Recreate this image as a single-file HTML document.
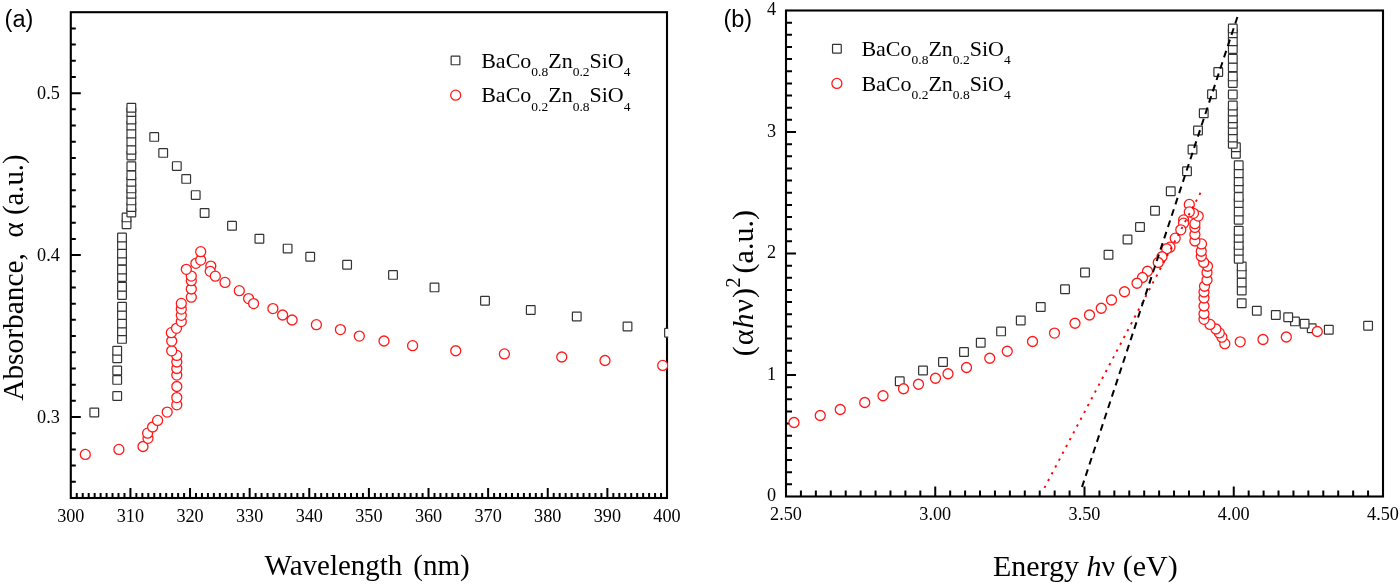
<!DOCTYPE html>
<html><head><meta charset="utf-8"><title>Absorbance chart</title>
<style>html,body{margin:0;padding:0;background:#fff;}body{width:1400px;height:585px;overflow:hidden;}svg{display:block;will-change:transform;}</style>
</head><body>
<svg width="1400" height="585" viewBox="0 0 1400 585"><rect width="1400" height="585" fill="#fff"/><g stroke="#000" stroke-width="2.1" fill="none" stroke-linecap="square"><rect x="70.80" y="12.20" width="596.20" height="485.80"/></g><path d="M76.76 498.00V493.00M82.72 498.00V493.00M88.69 498.00V493.00M94.65 498.00V493.00M100.61 498.00V493.00M106.57 498.00V493.00M112.53 498.00V493.00M118.50 498.00V493.00M124.46 498.00V493.00M130.42 498.00V488.00M136.38 498.00V493.00M142.34 498.00V493.00M148.31 498.00V493.00M154.27 498.00V493.00M160.23 498.00V493.00M166.19 498.00V493.00M172.15 498.00V493.00M178.12 498.00V493.00M184.08 498.00V493.00M190.04 498.00V488.00M196.00 498.00V493.00M201.96 498.00V493.00M207.93 498.00V493.00M213.89 498.00V493.00M219.85 498.00V493.00M225.81 498.00V493.00M231.77 498.00V493.00M237.74 498.00V493.00M243.70 498.00V493.00M249.66 498.00V488.00M255.62 498.00V493.00M261.58 498.00V493.00M267.55 498.00V493.00M273.51 498.00V493.00M279.47 498.00V493.00M285.43 498.00V493.00M291.39 498.00V493.00M297.36 498.00V493.00M303.32 498.00V493.00M309.28 498.00V488.00M315.24 498.00V493.00M321.20 498.00V493.00M327.17 498.00V493.00M333.13 498.00V493.00M339.09 498.00V493.00M345.05 498.00V493.00M351.01 498.00V493.00M356.98 498.00V493.00M362.94 498.00V493.00M368.90 498.00V488.00M374.86 498.00V493.00M380.82 498.00V493.00M386.79 498.00V493.00M392.75 498.00V493.00M398.71 498.00V493.00M404.67 498.00V493.00M410.63 498.00V493.00M416.60 498.00V493.00M422.56 498.00V493.00M428.52 498.00V488.00M434.48 498.00V493.00M440.44 498.00V493.00M446.41 498.00V493.00M452.37 498.00V493.00M458.33 498.00V493.00M464.29 498.00V493.00M470.25 498.00V493.00M476.22 498.00V493.00M482.18 498.00V493.00M488.14 498.00V488.00M494.10 498.00V493.00M500.06 498.00V493.00M506.03 498.00V493.00M511.99 498.00V493.00M517.95 498.00V493.00M523.91 498.00V493.00M529.87 498.00V493.00M535.84 498.00V493.00M541.80 498.00V493.00M547.76 498.00V488.00M553.72 498.00V493.00M559.68 498.00V493.00M565.65 498.00V493.00M571.61 498.00V493.00M577.57 498.00V493.00M583.53 498.00V493.00M589.49 498.00V493.00M595.46 498.00V493.00M601.42 498.00V493.00M607.38 498.00V488.00M613.34 498.00V493.00M619.30 498.00V493.00M625.27 498.00V493.00M631.23 498.00V493.00M637.19 498.00V493.00M643.15 498.00V493.00M649.11 498.00V493.00M655.08 498.00V493.00M661.04 498.00V493.00M70.80 481.81H75.80M70.80 465.61H75.80M70.80 449.42H75.80M70.80 433.23H75.80M70.80 417.03H80.80M70.80 400.84H75.80M70.80 384.65H75.80M70.80 368.45H75.80M70.80 352.26H75.80M70.80 336.07H75.80M70.80 319.87H75.80M70.80 303.68H75.80M70.80 287.49H75.80M70.80 271.29H75.80M70.80 255.10H80.80M70.80 238.91H75.80M70.80 222.71H75.80M70.80 206.52H75.80M70.80 190.33H75.80M70.80 174.13H75.80M70.80 157.94H75.80M70.80 141.75H75.80M70.80 125.55H75.80M70.80 109.36H75.80M70.80 93.17H80.80M70.80 76.97H75.80M70.80 60.78H75.80M70.80 44.59H75.80M70.80 28.39H75.80" stroke="#000" stroke-width="2" fill="none"/><g stroke="#000" stroke-width="2.1" fill="none" stroke-linecap="square"><rect x="786.00" y="10.50" width="597.00" height="486.00"/></g><path d="M800.92 496.50V490.50M815.85 496.50V490.50M830.77 496.50V490.50M845.70 496.50V490.50M860.62 496.50V490.50M875.55 496.50V490.50M890.48 496.50V490.50M905.40 496.50V490.50M920.33 496.50V490.50M935.25 496.50V486.50M950.17 496.50V490.50M965.10 496.50V490.50M980.02 496.50V490.50M994.95 496.50V490.50M1009.88 496.50V490.50M1024.80 496.50V490.50M1039.72 496.50V490.50M1054.65 496.50V490.50M1069.58 496.50V490.50M1084.50 496.50V486.50M1099.42 496.50V490.50M1114.35 496.50V490.50M1129.28 496.50V490.50M1144.20 496.50V490.50M1159.12 496.50V490.50M1174.05 496.50V490.50M1188.97 496.50V490.50M1203.90 496.50V490.50M1218.83 496.50V490.50M1233.75 496.50V486.50M1248.67 496.50V490.50M1263.60 496.50V490.50M1278.53 496.50V490.50M1293.45 496.50V490.50M1308.38 496.50V490.50M1323.30 496.50V490.50M1338.22 496.50V490.50M1353.15 496.50V490.50M1368.08 496.50V490.50M786.00 484.35H792.00M786.00 472.20H792.00M786.00 460.05H792.00M786.00 447.90H792.00M786.00 435.75H792.00M786.00 423.60H792.00M786.00 411.45H792.00M786.00 399.30H792.00M786.00 387.15H792.00M786.00 375.00H796.00M786.00 362.85H792.00M786.00 350.70H792.00M786.00 338.55H792.00M786.00 326.40H792.00M786.00 314.25H792.00M786.00 302.10H792.00M786.00 289.95H792.00M786.00 277.80H792.00M786.00 265.65H792.00M786.00 253.50H796.00M786.00 241.35H792.00M786.00 229.20H792.00M786.00 217.05H792.00M786.00 204.90H792.00M786.00 192.75H792.00M786.00 180.60H792.00M786.00 168.45H792.00M786.00 156.30H792.00M786.00 144.15H792.00M786.00 132.00H796.00M786.00 119.85H792.00M786.00 107.70H792.00M786.00 95.55H792.00M786.00 83.40H792.00M786.00 71.25H792.00M786.00 59.10H792.00M786.00 46.95H792.00M786.00 34.80H792.00M786.00 22.65H792.00" stroke="#000" stroke-width="2" fill="none"/><defs><clipPath id="ca"><rect x="0" y="0" width="668.2" height="585"/></clipPath></defs><g clip-path="url(#ca)"><g fill="#fff" stroke="#333" stroke-width="1.2"><rect x="89.95" y="408.15" width="8.7" height="8.7" rx="0.6"/><rect x="112.85" y="391.65" width="8.7" height="8.7" rx="0.6"/><rect x="112.85" y="375.55" width="8.7" height="8.7" rx="0.6"/><rect x="112.85" y="366.15" width="8.7" height="8.7" rx="0.6"/><rect x="112.85" y="353.85" width="8.7" height="8.7" rx="0.6"/><rect x="112.85" y="346.45" width="8.7" height="8.7" rx="0.6"/><rect x="117.65" y="334.55" width="8.7" height="8.7" rx="0.6"/><rect x="117.65" y="326.85" width="8.7" height="8.7" rx="0.6"/><rect x="117.65" y="319.15" width="8.7" height="8.7" rx="0.6"/><rect x="117.65" y="310.75" width="8.7" height="8.7" rx="0.6"/><rect x="117.65" y="302.35" width="8.7" height="8.7" rx="0.6"/><rect x="117.65" y="290.75" width="8.7" height="8.7" rx="0.6"/><rect x="117.65" y="282.35" width="8.7" height="8.7" rx="0.6"/><rect x="117.65" y="272.75" width="8.7" height="8.7" rx="0.6"/><rect x="117.65" y="265.25" width="8.7" height="8.7" rx="0.6"/><rect x="117.65" y="256.25" width="8.7" height="8.7" rx="0.6"/><rect x="117.65" y="249.15" width="8.7" height="8.7" rx="0.6"/><rect x="117.65" y="240.65" width="8.7" height="8.7" rx="0.6"/><rect x="117.65" y="233.15" width="8.7" height="8.7" rx="0.6"/><rect x="122.20" y="219.85" width="8.7" height="8.7" rx="0.6"/><rect x="122.20" y="213.05" width="8.7" height="8.7" rx="0.6"/><rect x="127.00" y="208.25" width="8.7" height="8.7" rx="0.6"/><rect x="127.00" y="202.65" width="8.7" height="8.7" rx="0.6"/><rect x="127.00" y="196.05" width="8.7" height="8.7" rx="0.6"/><rect x="127.00" y="189.45" width="8.7" height="8.7" rx="0.6"/><rect x="127.00" y="184.05" width="8.7" height="8.7" rx="0.6"/><rect x="127.00" y="177.45" width="8.7" height="8.7" rx="0.6"/><rect x="127.00" y="170.85" width="8.7" height="8.7" rx="0.6"/><rect x="127.00" y="161.85" width="8.7" height="8.7" rx="0.6"/><rect x="127.00" y="151.15" width="8.7" height="8.7" rx="0.6"/><rect x="127.00" y="145.35" width="8.7" height="8.7" rx="0.6"/><rect x="127.00" y="137.15" width="8.7" height="8.7" rx="0.6"/><rect x="127.00" y="129.25" width="8.7" height="8.7" rx="0.6"/><rect x="127.00" y="121.25" width="8.7" height="8.7" rx="0.6"/><rect x="127.00" y="115.15" width="8.7" height="8.7" rx="0.6"/><rect x="127.00" y="107.65" width="8.7" height="8.7" rx="0.6"/><rect x="127.00" y="103.45" width="8.7" height="8.7" rx="0.6"/><rect x="149.85" y="132.55" width="8.7" height="8.7" rx="0.6"/><rect x="158.85" y="148.55" width="8.7" height="8.7" rx="0.6"/><rect x="172.45" y="161.75" width="8.7" height="8.7" rx="0.6"/><rect x="181.85" y="174.55" width="8.7" height="8.7" rx="0.6"/><rect x="191.35" y="190.75" width="8.7" height="8.7" rx="0.6"/><rect x="200.25" y="208.65" width="8.7" height="8.7" rx="0.6"/><rect x="227.65" y="221.45" width="8.7" height="8.7" rx="0.6"/><rect x="255.05" y="234.35" width="8.7" height="8.7" rx="0.6"/><rect x="283.25" y="244.25" width="8.7" height="8.7" rx="0.6"/><rect x="305.85" y="252.45" width="8.7" height="8.7" rx="0.6"/><rect x="342.75" y="260.35" width="8.7" height="8.7" rx="0.6"/><rect x="388.65" y="270.55" width="8.7" height="8.7" rx="0.6"/><rect x="430.15" y="283.05" width="8.7" height="8.7" rx="0.6"/><rect x="480.65" y="296.40" width="8.7" height="8.7" rx="0.6"/><rect x="526.40" y="305.65" width="8.7" height="8.7" rx="0.6"/><rect x="572.40" y="312.15" width="8.7" height="8.7" rx="0.6"/><rect x="623.15" y="322.15" width="8.7" height="8.7" rx="0.6"/><rect x="664.65" y="328.45" width="8.7" height="8.7" rx="0.6"/></g><g fill="#fff" stroke="#ff1a1a" stroke-width="1.3"><circle cx="85.30" cy="454.40" r="5.0"/><circle cx="118.90" cy="449.40" r="5.0"/><circle cx="143.00" cy="446.50" r="5.0"/><circle cx="148.00" cy="438.30" r="5.0"/><circle cx="147.60" cy="433.20" r="5.0"/><circle cx="152.60" cy="427.00" r="5.0"/><circle cx="157.60" cy="420.40" r="5.0"/><circle cx="167.20" cy="412.10" r="5.0"/><circle cx="176.80" cy="404.80" r="5.0"/><circle cx="176.80" cy="397.60" r="5.0"/><circle cx="176.80" cy="386.50" r="5.0"/><circle cx="176.80" cy="375.10" r="5.0"/><circle cx="176.80" cy="368.50" r="5.0"/><circle cx="176.80" cy="362.00" r="5.0"/><circle cx="176.80" cy="355.40" r="5.0"/><circle cx="171.70" cy="350.80" r="5.0"/><circle cx="171.70" cy="341.10" r="5.0"/><circle cx="171.30" cy="332.70" r="5.0"/><circle cx="176.50" cy="328.30" r="5.0"/><circle cx="181.30" cy="321.60" r="5.0"/><circle cx="181.30" cy="315.30" r="5.0"/><circle cx="181.30" cy="309.10" r="5.0"/><circle cx="181.30" cy="303.40" r="5.0"/><circle cx="191.30" cy="297.20" r="5.0"/><circle cx="191.30" cy="289.00" r="5.0"/><circle cx="191.30" cy="280.70" r="5.0"/><circle cx="191.30" cy="276.10" r="5.0"/><circle cx="186.30" cy="269.30" r="5.0"/><circle cx="195.90" cy="263.30" r="5.0"/><circle cx="200.70" cy="260.10" r="5.0"/><circle cx="200.70" cy="251.70" r="5.0"/><circle cx="210.80" cy="266.10" r="5.0"/><circle cx="210.20" cy="271.30" r="5.0"/><circle cx="215.30" cy="276.20" r="5.0"/><circle cx="225.00" cy="282.40" r="5.0"/><circle cx="239.30" cy="290.70" r="5.0"/><circle cx="248.60" cy="298.60" r="5.0"/><circle cx="253.60" cy="303.60" r="5.0"/><circle cx="272.90" cy="308.60" r="5.0"/><circle cx="282.60" cy="315.00" r="5.0"/><circle cx="292.10" cy="320.00" r="5.0"/><circle cx="316.40" cy="324.70" r="5.0"/><circle cx="340.40" cy="329.60" r="5.0"/><circle cx="359.30" cy="336.10" r="5.0"/><circle cx="384.00" cy="341.00" r="5.0"/><circle cx="412.60" cy="345.70" r="5.0"/><circle cx="455.75" cy="350.75" r="5.0"/><circle cx="504.40" cy="353.90" r="5.0"/><circle cx="561.75" cy="357.00" r="5.0"/><circle cx="605.00" cy="360.50" r="5.0"/><circle cx="662.70" cy="365.40" r="5.0"/></g></g><g fill="#fff" stroke="#333" stroke-width="1.2"><rect x="1363.75" y="321.40" width="8.7" height="8.7" rx="0.6"/><rect x="1324.45" y="325.35" width="8.7" height="8.7" rx="0.6"/><rect x="1307.35" y="323.85" width="8.7" height="8.7" rx="0.6"/><rect x="1300.25" y="319.45" width="8.7" height="8.7" rx="0.6"/><rect x="1290.65" y="317.05" width="8.7" height="8.7" rx="0.6"/><rect x="1283.85" y="312.95" width="8.7" height="8.7" rx="0.6"/><rect x="1271.45" y="310.65" width="8.7" height="8.7" rx="0.6"/><rect x="1252.45" y="306.35" width="8.7" height="8.7" rx="0.6"/><rect x="1237.35" y="298.95" width="8.7" height="8.7" rx="0.6"/><rect x="1237.35" y="286.25" width="8.7" height="8.7" rx="0.6"/><rect x="1237.35" y="278.15" width="8.7" height="8.7" rx="0.6"/><rect x="1237.35" y="269.45" width="8.7" height="8.7" rx="0.6"/><rect x="1237.35" y="262.05" width="8.7" height="8.7" rx="0.6"/><rect x="1234.35" y="254.45" width="8.7" height="8.7" rx="0.6"/><rect x="1234.35" y="246.35" width="8.7" height="8.7" rx="0.6"/><rect x="1234.35" y="240.55" width="8.7" height="8.7" rx="0.6"/><rect x="1234.35" y="233.35" width="8.7" height="8.7" rx="0.6"/><rect x="1234.35" y="226.35" width="8.7" height="8.7" rx="0.6"/><rect x="1234.35" y="215.45" width="8.7" height="8.7" rx="0.6"/><rect x="1234.35" y="207.25" width="8.7" height="8.7" rx="0.6"/><rect x="1234.35" y="198.65" width="8.7" height="8.7" rx="0.6"/><rect x="1234.35" y="192.55" width="8.7" height="8.7" rx="0.6"/><rect x="1234.35" y="183.55" width="8.7" height="8.7" rx="0.6"/><rect x="1234.35" y="176.95" width="8.7" height="8.7" rx="0.6"/><rect x="1234.35" y="168.85" width="8.7" height="8.7" rx="0.6"/><rect x="1234.35" y="160.85" width="8.7" height="8.7" rx="0.6"/><rect x="1231.55" y="149.45" width="8.7" height="8.7" rx="0.6"/><rect x="1231.55" y="142.85" width="8.7" height="8.7" rx="0.6"/><rect x="1228.45" y="139.45" width="8.7" height="8.7" rx="0.6"/><rect x="1228.45" y="133.15" width="8.7" height="8.7" rx="0.6"/><rect x="1228.45" y="125.95" width="8.7" height="8.7" rx="0.6"/><rect x="1228.45" y="119.35" width="8.7" height="8.7" rx="0.6"/><rect x="1228.45" y="113.95" width="8.7" height="8.7" rx="0.6"/><rect x="1228.45" y="107.15" width="8.7" height="8.7" rx="0.6"/><rect x="1228.45" y="101.15" width="8.7" height="8.7" rx="0.6"/><rect x="1228.45" y="90.15" width="8.7" height="8.7" rx="0.6"/><rect x="1228.45" y="78.65" width="8.7" height="8.7" rx="0.6"/><rect x="1228.45" y="72.05" width="8.7" height="8.7" rx="0.6"/><rect x="1228.45" y="62.95" width="8.7" height="8.7" rx="0.6"/><rect x="1228.45" y="54.35" width="8.7" height="8.7" rx="0.6"/><rect x="1228.45" y="44.75" width="8.7" height="8.7" rx="0.6"/><rect x="1228.45" y="36.95" width="8.7" height="8.7" rx="0.6"/><rect x="1228.45" y="28.95" width="8.7" height="8.7" rx="0.6"/><rect x="1228.45" y="24.05" width="8.7" height="8.7" rx="0.6"/><rect x="1213.90" y="67.65" width="8.7" height="8.7" rx="0.6"/><rect x="1207.65" y="89.90" width="8.7" height="8.7" rx="0.6"/><rect x="1199.40" y="108.90" width="8.7" height="8.7" rx="0.6"/><rect x="1193.65" y="126.15" width="8.7" height="8.7" rx="0.6"/><rect x="1188.15" y="145.15" width="8.7" height="8.7" rx="0.6"/><rect x="1182.65" y="166.90" width="8.7" height="8.7" rx="0.6"/><rect x="1166.40" y="186.90" width="8.7" height="8.7" rx="0.6"/><rect x="1150.65" y="206.40" width="8.7" height="8.7" rx="0.6"/><rect x="1135.65" y="222.65" width="8.7" height="8.7" rx="0.6"/><rect x="1123.15" y="235.15" width="8.7" height="8.7" rx="0.6"/><rect x="1104.15" y="250.40" width="8.7" height="8.7" rx="0.6"/><rect x="1080.65" y="268.15" width="8.7" height="8.7" rx="0.6"/><rect x="1060.65" y="284.90" width="8.7" height="8.7" rx="0.6"/><rect x="1036.40" y="302.65" width="8.7" height="8.7" rx="0.6"/><rect x="1016.40" y="316.15" width="8.7" height="8.7" rx="0.6"/><rect x="996.75" y="327.05" width="8.7" height="8.7" rx="0.6"/><rect x="976.40" y="338.40" width="8.7" height="8.7" rx="0.6"/><rect x="959.65" y="347.65" width="8.7" height="8.7" rx="0.6"/><rect x="938.65" y="357.65" width="8.7" height="8.7" rx="0.6"/><rect x="918.65" y="366.15" width="8.7" height="8.7" rx="0.6"/><rect x="895.40" y="376.90" width="8.7" height="8.7" rx="0.6"/><rect x="451.15" y="56.05" width="8.7" height="8.7" rx="0.6"/><rect x="832.55" y="44.35" width="8.7" height="8.7" rx="0.6"/></g><g fill="#fff" stroke="#ff1a1a" stroke-width="1.3"><circle cx="1317.30" cy="331.50" r="5.0"/><circle cx="1286.30" cy="337.00" r="5.0"/><circle cx="1263.00" cy="339.50" r="5.0"/><circle cx="1240.20" cy="341.80" r="5.0"/><circle cx="1224.80" cy="343.70" r="5.0"/><circle cx="1221.90" cy="337.20" r="5.0"/><circle cx="1219.30" cy="332.90" r="5.0"/><circle cx="1215.90" cy="329.00" r="5.0"/><circle cx="1210.00" cy="324.40" r="5.0"/><circle cx="1204.00" cy="319.30" r="5.0"/><circle cx="1204.00" cy="313.75" r="5.0"/><circle cx="1204.00" cy="306.00" r="5.0"/><circle cx="1204.00" cy="298.00" r="5.0"/><circle cx="1204.00" cy="292.00" r="5.0"/><circle cx="1204.50" cy="286.25" r="5.0"/><circle cx="1207.00" cy="280.00" r="5.0"/><circle cx="1207.00" cy="272.50" r="5.0"/><circle cx="1207.50" cy="266.25" r="5.0"/><circle cx="1203.75" cy="262.50" r="5.0"/><circle cx="1201.25" cy="256.25" r="5.0"/><circle cx="1201.25" cy="251.25" r="5.0"/><circle cx="1201.50" cy="243.90" r="5.0"/><circle cx="1194.90" cy="241.00" r="5.0"/><circle cx="1194.90" cy="234.50" r="5.0"/><circle cx="1194.90" cy="227.40" r="5.0"/><circle cx="1194.90" cy="223.70" r="5.0"/><circle cx="1198.20" cy="216.10" r="5.0"/><circle cx="1193.50" cy="213.30" r="5.0"/><circle cx="1189.30" cy="204.40" r="5.0"/><circle cx="1189.30" cy="211.90" r="5.0"/><circle cx="1183.60" cy="219.90" r="5.0"/><circle cx="1183.60" cy="223.20" r="5.0"/><circle cx="1180.80" cy="229.80" r="5.0"/><circle cx="1175.20" cy="238.20" r="5.0"/><circle cx="1170.00" cy="247.20" r="5.0"/><circle cx="1166.75" cy="248.75" r="5.0"/><circle cx="1162.00" cy="256.75" r="5.0"/><circle cx="1158.25" cy="262.50" r="5.0"/><circle cx="1147.50" cy="271.25" r="5.0"/><circle cx="1142.50" cy="277.50" r="5.0"/><circle cx="1137.00" cy="283.25" r="5.0"/><circle cx="1124.50" cy="291.75" r="5.0"/><circle cx="1111.50" cy="300.00" r="5.0"/><circle cx="1101.25" cy="308.25" r="5.0"/><circle cx="1089.50" cy="315.00" r="5.0"/><circle cx="1075.00" cy="323.25" r="5.0"/><circle cx="1054.50" cy="333.10" r="5.0"/><circle cx="1032.50" cy="341.50" r="5.0"/><circle cx="1007.25" cy="351.25" r="5.0"/><circle cx="989.75" cy="358.25" r="5.0"/><circle cx="966.50" cy="367.50" r="5.0"/><circle cx="948.00" cy="373.75" r="5.0"/><circle cx="935.50" cy="378.25" r="5.0"/><circle cx="918.50" cy="384.25" r="5.0"/><circle cx="903.50" cy="388.75" r="5.0"/><circle cx="883.00" cy="395.75" r="5.0"/><circle cx="864.75" cy="402.50" r="5.0"/><circle cx="840.25" cy="409.50" r="5.0"/><circle cx="820.25" cy="415.50" r="5.0"/><circle cx="794.00" cy="422.50" r="5.0"/><circle cx="455.70" cy="95.20" r="5.0"/><circle cx="836.90" cy="83.40" r="5.0"/></g><path d="M1200.5 192.8L1041.9 492.6" stroke="#f00" stroke-width="1.9" stroke-dasharray="2.3 5.41" fill="none"/><path d="M1237.4 17L1082 487" stroke="#000" stroke-width="2" stroke-dasharray="6.85 5.06" fill="none"/><g font-family="Liberation Serif, serif" font-size="18.2" fill="#000"><text x="70.80" y="522" text-anchor="middle">300</text><text x="130.42" y="522" text-anchor="middle">310</text><text x="190.04" y="522" text-anchor="middle">320</text><text x="249.66" y="522" text-anchor="middle">330</text><text x="309.28" y="522" text-anchor="middle">340</text><text x="368.90" y="522" text-anchor="middle">350</text><text x="428.52" y="522" text-anchor="middle">360</text><text x="488.14" y="522" text-anchor="middle">370</text><text x="547.76" y="522" text-anchor="middle">380</text><text x="607.38" y="522" text-anchor="middle">390</text><text x="667.00" y="522" text-anchor="middle">400</text><text x="59.8" y="422.53" text-anchor="end">0.3</text><text x="59.8" y="260.60" text-anchor="end">0.4</text><text x="59.8" y="98.67" text-anchor="end">0.5</text><text x="786.00" y="520" text-anchor="middle">2.50</text><text x="935.25" y="520" text-anchor="middle">3.00</text><text x="1084.50" y="520" text-anchor="middle">3.50</text><text x="1233.75" y="520" text-anchor="middle">4.00</text><text x="1383.00" y="520" text-anchor="middle">4.50</text><text x="776.2" y="501.45" text-anchor="end">0</text><text x="776.2" y="379.95" text-anchor="end">1</text><text x="776.2" y="258.45" text-anchor="end">2</text><text x="776.2" y="136.95" text-anchor="end">3</text><text x="776.2" y="15.45" text-anchor="end">4</text></g><text x="4.6" y="27.2" font-family="Liberation Sans, sans-serif" font-size="23.5">(a)</text><text x="723.4" y="27.2" font-family="Liberation Sans, sans-serif" font-size="23.5">(b)</text><text x="264.6" y="574.9" font-family="Liberation Serif, serif" font-size="29">Wavelength<tspan dx="3.7"> (nm)</tspan></text><text x="993" y="575.9" font-family="Liberation Serif, serif" font-size="30">Energy <tspan font-style="italic">h</tspan>ν (eV)</text><text transform="translate(22.8 400.8) rotate(-90)" font-family="Liberation Serif, serif" font-size="29.4">Absorbance,<tspan dx="8.5" font-size="28.8"> α (a.u.)</tspan></text><text transform="translate(752.5 356.2) rotate(-90)" font-family="Liberation Serif, serif" font-size="30" xml:space="preserve"><tspan letter-spacing="1">(α<tspan font-style="italic">h</tspan>ν</tspan>)<tspan font-size="20" dy="-13" dx="0.5">2</tspan><tspan dy="13" dx="4">(a.u.)</tspan></text><text x="481.2" y="67.5" font-family="Liberation Serif, serif" font-size="22">BaCo<tspan font-size="13.5" dy="8.5">0.8</tspan><tspan dy="-8.5">Zn</tspan><tspan font-size="13.5" dy="8.5">0.2</tspan><tspan dy="-8.5">SiO</tspan><tspan font-size="13.5" dy="8.5">4</tspan></text><text x="481.2" y="102.1" font-family="Liberation Serif, serif" font-size="22">BaCo<tspan font-size="13.5" dy="8.5">0.2</tspan><tspan dy="-8.5">Zn</tspan><tspan font-size="13.5" dy="8.5">0.8</tspan><tspan dy="-8.5">SiO</tspan><tspan font-size="13.5" dy="8.5">4</tspan></text><text x="861.4" y="55.9" font-family="Liberation Serif, serif" font-size="22">BaCo<tspan font-size="13.5" dy="8.5">0.8</tspan><tspan dy="-8.5">Zn</tspan><tspan font-size="13.5" dy="8.5">0.2</tspan><tspan dy="-8.5">SiO</tspan><tspan font-size="13.5" dy="8.5">4</tspan></text><text x="861.4" y="90.5" font-family="Liberation Serif, serif" font-size="22">BaCo<tspan font-size="13.5" dy="8.5">0.2</tspan><tspan dy="-8.5">Zn</tspan><tspan font-size="13.5" dy="8.5">0.8</tspan><tspan dy="-8.5">SiO</tspan><tspan font-size="13.5" dy="8.5">4</tspan></text></svg>
</body></html>
